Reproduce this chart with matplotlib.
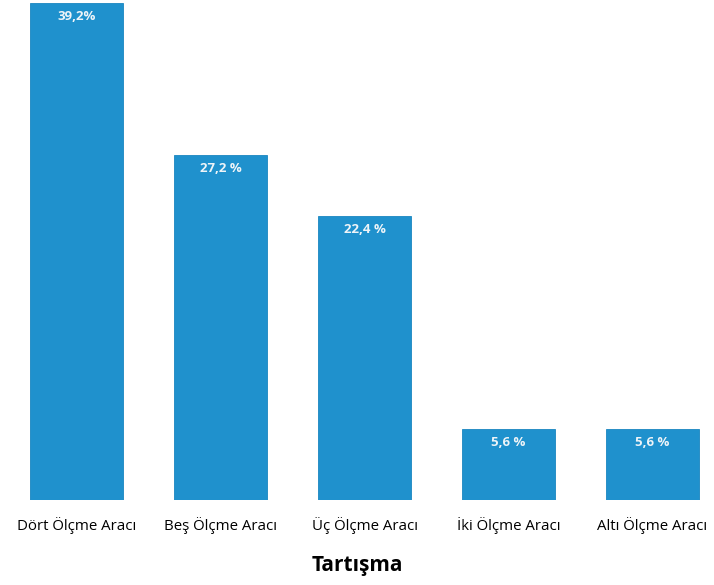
import matplotlib
matplotlib.use("Agg")
import matplotlib.pyplot as plt
import numpy as np

categories = ["Dört Ölçme Aracı", "Beş Ölçme Aracı", "Üç Ölçme Aracı",
              "İki Ölçme Aracı", "Altı Ölçme Aracı"]
values = [39.2, 27.2, 22.4, 5.6, 5.6]
pct_gap = ["", " ", " ", " ", " "]
title = "Tartışma"

BAR_COLOR = "#1f91cd"

fig = plt.figure(figsize=(7.14, 5.85), dpi=100)
ax = fig.add_axes([0, 85 / 585, 1, 500 / 585])

x = np.arange(len(categories))
bars = ax.bar(x, values, width=0.646, color=BAR_COLOR, edgecolor="#1a86c0",
              linewidth=0.6, zorder=2)

for bar, v, gap in zip(bars, values, pct_gap):
    label = f"{v:.1f}".replace(".", ",") + gap + "%"
    ax.annotate(label, (bar.get_x() + bar.get_width() / 2, v),
                xytext=(0, -5), textcoords="offset points",
                ha="center", va="top", color="#eef4f8", fontsize=9.5,
                fontweight="bold", family="Open Sans")

ax.set_xlim(-76.5 / 144, (714 - 76.5) / 144)
ax.set_ylim(0, 500 / 12.68)
ax.set_xticks(x)
ax.set_xticklabels(categories, family="Open Sans", fontsize=10.8)
ax.tick_params(axis="x", length=0, pad=12)
ax.set_yticks([])
for s in ax.spines.values():
    s.set_visible(False)

fig.text(0.5, 1 - 566 / 585, title, ha="center", va="center",
         fontsize=15, fontweight="bold", family="Open Sans")

fig.savefig("out.png", dpi=100)
